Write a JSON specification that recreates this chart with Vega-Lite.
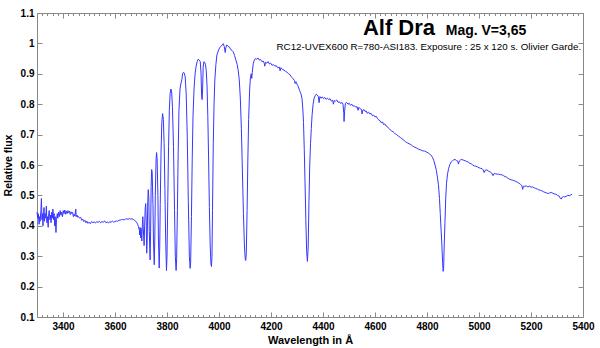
{
  "$schema": "https://vega.github.io/schema/vega-lite/v6.json",
  "width": 546,
  "height": 304,
  "autosize": {"type": "none"},
  "padding": {"left": 37, "top": 13, "right": 17, "bottom": 31},
  "background": "white",
  "config": {
    "view": {"stroke": null},
    "axis": {"labelFont": "Liberation Sans", "titleFont": "Liberation Sans", "labelFontWeight": "bold", "titleFontWeight": "bold", "labelColor": "#000", "titleColor": "#000", "domainColor": "#888", "tickColor": "#888", "grid": false, "labelFontSize": 10, "titleFontSize": 11}
  },
  "datasets": {
    "spec": [
{"w":3300,"f":0.445},{"w":3303,"f":0.425},{"w":3305,"f":0.44},{"w":3308,"f":0.405},{"w":3310,"f":0.43},{"w":3312,"f":0.415},{"w":3315,"f":0.45},{"w":3317,"f":0.49},{"w":3319,"f":0.42},{"w":3321,"f":0.44},{"w":3323,"f":0.40},{"w":3325,"f":0.435},{"w":3327,"f":0.46},{"w":3329,"f":0.415},{"w":3331,"f":0.44},{"w":3334,"f":0.425},{"w":3336,"f":0.465},{"w":3338,"f":0.41},{"w":3340,"f":0.43},{"w":3343,"f":0.395},{"w":3345,"f":0.44},{"w":3347,"f":0.45},{"w":3350,"f":0.42},{"w":3352,"f":0.435},{"w":3354,"f":0.41},{"w":3357,"f":0.445},{"w":3359,"f":0.425},{"w":3361,"f":0.455},{"w":3364,"f":0.42},{"w":3366,"f":0.44},{"w":3368,"f":0.4},{"w":3370,"f":0.43},{"w":3373,"f":0.378},{"w":3375,"f":0.42},{"w":3378,"f":0.44},{"w":3380,"f":0.425},{"w":3383,"f":0.445},{"w":3386,"f":0.43},{"w":3389,"f":0.45},{"w":3392,"f":0.435},{"w":3395,"f":0.445},{"w":3398,"f":0.43},{"w":3401,"f":0.45},{"w":3404,"f":0.44},{"w":3407,"f":0.452},{"w":3410,"f":0.438},{"w":3413,"f":0.448},{"w":3416,"f":0.44},{"w":3419,"f":0.45},{"w":3422,"f":0.443},{"w":3425,"f":0.448},{"w":3428,"f":0.437},{"w":3431,"f":0.446},{"w":3434,"f":0.44},{"w":3437,"f":0.444},{"w":3440,"f":0.43},{"w":3443,"f":0.438},{"w":3446,"f":0.432},{"w":3449,"f":0.455},{"w":3451,"f":0.43},{"w":3454,"f":0.435},{"w":3457,"f":0.428},{"w":3460,"f":0.43},{"w":3464,"f":0.425},{"w":3468,"f":0.428},{"w":3472,"f":0.418},{"w":3476,"f":0.422},{"w":3480,"f":0.414},{"w":3484,"f":0.418},{"w":3488,"f":0.41},{"w":3492,"f":0.415},{"w":3496,"f":0.408},{"w":3500,"f":0.412},{"w":3505,"f":0.407},{"w":3510,"f":0.414},{"w":3515,"f":0.41},{"w":3520,"f":0.413},{"w":3525,"f":0.409},{"w":3530,"f":0.414},{"w":3535,"f":0.411},{"w":3540,"f":0.415},{"w":3545,"f":0.41},{"w":3550,"f":0.414},{"w":3555,"f":0.412},{"w":3560,"f":0.416},{"w":3565,"f":0.41},{"w":3570,"f":0.413},{"w":3575,"f":0.409},{"w":3580,"f":0.414},{"w":3585,"f":0.411},{"w":3590,"f":0.416},{"w":3595,"f":0.412},{"w":3600,"f":0.414},{"w":3605,"f":0.416},{"w":3610,"f":0.415},{"w":3615,"f":0.418},{"w":3620,"f":0.419},{"w":3625,"f":0.42},{"w":3630,"f":0.421},{"w":3635,"f":0.419},{"w":3640,"f":0.422},{"w":3645,"f":0.423},{"w":3650,"f":0.421},{"w":3655,"f":0.424},{"w":3660,"f":0.422},{"w":3665,"f":0.423},{"w":3670,"f":0.421},{"w":3675,"f":0.418},{"w":3680,"f":0.415},{"w":3684,"f":0.41},{"w":3687,"f":0.405},{"w":3690,"f":0.398},{"w":3692,"f":0.39},{"w":3694,"f":0.385},{"w":3695,"f":0.37},{"w":3696,"f":0.395},{"w":3698,"f":0.38},{"w":3699,"f":0.36},{"w":3700,"f":0.392},{"w":3702,"f":0.37},{"w":3703,"f":0.35},{"w":3705,"f":0.40},{"w":3707,"f":0.43},{"w":3709,"f":0.39},{"w":3712,"f":0.335},{"w":3714,"f":0.40},{"w":3716,"f":0.455},{"w":3718,"f":0.473},{"w":3720,"f":0.42},{"w":3722,"f":0.31},{"w":3724,"f":0.36},{"w":3726,"f":0.48},{"w":3728,"f":0.519},{"w":3730,"f":0.49},{"w":3732,"f":0.38},{"w":3735,"f":0.288},{"w":3737,"f":0.38},{"w":3739,"f":0.53},{"w":3741,"f":0.585},{"w":3743,"f":0.575},{"w":3746,"f":0.47},{"w":3748,"f":0.35},{"w":3751,"f":0.272},{"w":3753,"f":0.35},{"w":3755,"f":0.5},{"w":3758,"f":0.62},{"w":3760,"f":0.641},{"w":3762,"f":0.62},{"w":3765,"f":0.5},{"w":3767,"f":0.36},{"w":3770,"f":0.261},{"w":3772,"f":0.33},{"w":3774,"f":0.47},{"w":3777,"f":0.64},{"w":3780,"f":0.74},{"w":3783,"f":0.769},{"w":3786,"f":0.75},{"w":3789,"f":0.67},{"w":3792,"f":0.52},{"w":3795,"f":0.35},{"w":3798,"f":0.253},{"w":3800,"f":0.30},{"w":3803,"f":0.48},{"w":3806,"f":0.66},{"w":3809,"f":0.78},{"w":3812,"f":0.835},{"w":3815,"f":0.85},{"w":3818,"f":0.84},{"w":3821,"f":0.79},{"w":3825,"f":0.66},{"w":3829,"f":0.45},{"w":3832,"f":0.30},{"w":3835,"f":0.253},{"w":3837,"f":0.29},{"w":3840,"f":0.45},{"w":3843,"f":0.64},{"w":3846,"f":0.78},{"w":3850,"f":0.85},{"w":3854,"f":0.87},{"w":3857,"f":0.88},{"w":3860,"f":0.9},{"w":3863,"f":0.905},{"w":3866,"f":0.903},{"w":3870,"f":0.89},{"w":3874,"f":0.83},{"w":3878,"f":0.69},{"w":3882,"f":0.48},{"w":3886,"f":0.30},{"w":3889,"f":0.26},{"w":3891,"f":0.28},{"w":3894,"f":0.43},{"w":3897,"f":0.62},{"w":3900,"f":0.76},{"w":3904,"f":0.85},{"w":3908,"f":0.9},{"w":3912,"f":0.925},{"w":3916,"f":0.94},{"w":3920,"f":0.948},{"w":3924,"f":0.945},{"w":3928,"f":0.94},{"w":3931,"f":0.9},{"w":3933,"f":0.83},{"w":3935,"f":0.815},{"w":3937,"f":0.85},{"w":3939,"f":0.92},{"w":3942,"f":0.94},{"w":3945,"f":0.938},{"w":3948,"f":0.93},{"w":3951,"f":0.91},{"w":3954,"f":0.86},{"w":3957,"f":0.76},{"w":3960,"f":0.62},{"w":3963,"f":0.46},{"w":3966,"f":0.34},{"w":3969,"f":0.275},{"w":3971,"f":0.266},{"w":3973,"f":0.3},{"w":3975,"f":0.45},{"w":3978,"f":0.67},{"w":3981,"f":0.8},{"w":3984,"f":0.88},{"w":3988,"f":0.93},{"w":3992,"f":0.962},{"w":3997,"f":0.975},{"w":4002,"f":0.985},{"w":4007,"f":0.99},{"w":4012,"f":0.995},{"w":4017,"f":0.999},{"w":4020,"f":0.99},{"w":4024,"f":0.97},{"w":4026,"f":0.985},{"w":4030,"f":0.995},{"w":4035,"f":0.99},{"w":4040,"f":0.988},{"w":4045,"f":0.98},{"w":4050,"f":0.977},{"w":4055,"f":0.972},{"w":4060,"f":0.96},{"w":4065,"f":0.945},{"w":4070,"f":0.93},{"w":4074,"f":0.91},{"w":4078,"f":0.88},{"w":4082,"f":0.82},{"w":4086,"f":0.72},{"w":4090,"f":0.58},{"w":4094,"f":0.44},{"w":4098,"f":0.33},{"w":4101,"f":0.29},{"w":4103,"f":0.286},{"w":4105,"f":0.31},{"w":4108,"f":0.45},{"w":4111,"f":0.62},{"w":4114,"f":0.75},{"w":4118,"f":0.85},{"w":4121,"f":0.89},{"w":4124,"f":0.9},{"w":4126,"f":0.885},{"w":4128,"f":0.905},{"w":4132,"f":0.935},{"w":4136,"f":0.945},{"w":4140,"f":0.95},{"w":4145,"f":0.948},{"w":4150,"f":0.952},{"w":4155,"f":0.945},{"w":4160,"f":0.947},{"w":4165,"f":0.94},{"w":4170,"f":0.942},{"w":4174,"f":0.935},{"w":4176,"f":0.925},{"w":4179,"f":0.938},{"w":4184,"f":0.935},{"w":4189,"f":0.94},{"w":4194,"f":0.932},{"w":4199,"f":0.935},{"w":4204,"f":0.928},{"w":4210,"f":0.93},{"w":4215,"f":0.925},{"w":4220,"f":0.927},{"w":4226,"f":0.92},{"w":4232,"f":0.922},{"w":4235,"f":0.91},{"w":4238,"f":0.92},{"w":4244,"f":0.915},{"w":4250,"f":0.912},{"w":4256,"f":0.908},{"w":4262,"f":0.905},{"w":4268,"f":0.9},{"w":4273,"f":0.897},{"w":4278,"f":0.89},{"w":4284,"f":0.885},{"w":4290,"f":0.878},{"w":4293,"f":0.868},{"w":4296,"f":0.874},{"w":4300,"f":0.866},{"w":4305,"f":0.858},{"w":4310,"f":0.845},{"w":4315,"f":0.835},{"w":4319,"f":0.82},{"w":4322,"f":0.79},{"w":4325,"f":0.74},{"w":4328,"f":0.65},{"w":4331,"f":0.54},{"w":4334,"f":0.42},{"w":4337,"f":0.32},{"w":4340,"f":0.283},{"w":4343,"f":0.33},{"w":4346,"f":0.48},{"w":4349,"f":0.6},{"w":4352,"f":0.67},{"w":4355,"f":0.72},{"w":4358,"f":0.765},{"w":4362,"f":0.8},{"w":4366,"f":0.82},{"w":4370,"f":0.828},{"w":4374,"f":0.833},{"w":4378,"f":0.83},{"w":4382,"f":0.825},{"w":4385,"f":0.805},{"w":4388,"f":0.825},{"w":4392,"f":0.82},{"w":4397,"f":0.824},{"w":4402,"f":0.818},{"w":4407,"f":0.822},{"w":4412,"f":0.816},{"w":4417,"f":0.82},{"w":4422,"f":0.815},{"w":4427,"f":0.818},{"w":4432,"f":0.81},{"w":4437,"f":0.813},{"w":4440,"f":0.8},{"w":4443,"f":0.812},{"w":4448,"f":0.81},{"w":4453,"f":0.814},{"w":4458,"f":0.806},{"w":4463,"f":0.808},{"w":4468,"f":0.802},{"w":4473,"f":0.806},{"w":4477,"f":0.8},{"w":4480,"f":0.77},{"w":4481,"f":0.743},{"w":4483,"f":0.775},{"w":4486,"f":0.803},{"w":4491,"f":0.806},{"w":4496,"f":0.8},{"w":4501,"f":0.803},{"w":4506,"f":0.796},{"w":4511,"f":0.8},{"w":4516,"f":0.793},{"w":4521,"f":0.795},{"w":4526,"f":0.79},{"w":4531,"f":0.792},{"w":4535,"f":0.78},{"w":4538,"f":0.79},{"w":4543,"f":0.785},{"w":4548,"f":0.783},{"w":4550,"f":0.768},{"w":4553,"f":0.78},{"w":4558,"f":0.782},{"w":4562,"f":0.776},{"w":4566,"f":0.778},{"w":4570,"f":0.77},{"w":4575,"f":0.774},{"w":4580,"f":0.768},{"w":4585,"f":0.77},{"w":4590,"f":0.762},{"w":4595,"f":0.764},{"w":4600,"f":0.758},{"w":4605,"f":0.76},{"w":4610,"f":0.752},{"w":4615,"f":0.748},{"w":4620,"f":0.745},{"w":4625,"f":0.738},{"w":4629,"f":0.742},{"w":4633,"f":0.733},{"w":4638,"f":0.735},{"w":4643,"f":0.728},{"w":4648,"f":0.726},{"w":4653,"f":0.72},{"w":4658,"f":0.716},{"w":4664,"f":0.712},{"w":4670,"f":0.709},{"w":4676,"f":0.704},{"w":4683,"f":0.7},{"w":4690,"f":0.695},{"w":4697,"f":0.691},{"w":4704,"f":0.686},{"w":4710,"f":0.682},{"w":4717,"f":0.677},{"w":4724,"f":0.673},{"w":4731,"f":0.67},{"w":4738,"f":0.667},{"w":4745,"f":0.662},{"w":4752,"f":0.659},{"w":4760,"f":0.656},{"w":4767,"f":0.652},{"w":4775,"f":0.65},{"w":4782,"f":0.647},{"w":4790,"f":0.646},{"w":4797,"f":0.643},{"w":4804,"f":0.64},{"w":4810,"f":0.636},{"w":4816,"f":0.632},{"w":4821,"f":0.625},{"w":4826,"f":0.615},{"w":4831,"f":0.6},{"w":4836,"f":0.582},{"w":4840,"f":0.56},{"w":4844,"f":0.535},{"w":4848,"f":0.49},{"w":4851,"f":0.44},{"w":4854,"f":0.39},{"w":4857,"f":0.34},{"w":4860,"f":0.28},{"w":4862,"f":0.25},{"w":4864,"f":0.26},{"w":4866,"f":0.33},{"w":4869,"f":0.41},{"w":4872,"f":0.49},{"w":4875,"f":0.54},{"w":4879,"f":0.57},{"w":4883,"f":0.588},{"w":4888,"f":0.602},{"w":4893,"f":0.61},{"w":4898,"f":0.614},{"w":4903,"f":0.617},{"w":4908,"f":0.618},{"w":4913,"f":0.615},{"w":4918,"f":0.613},{"w":4921,"f":0.603},{"w":4924,"f":0.613},{"w":4929,"f":0.617},{"w":4934,"f":0.618},{"w":4940,"f":0.616},{"w":4946,"f":0.614},{"w":4952,"f":0.612},{"w":4958,"f":0.61},{"w":4964,"f":0.606},{"w":4970,"f":0.604},{"w":4976,"f":0.6},{"w":4982,"f":0.597},{"w":4988,"f":0.596},{"w":4994,"f":0.594},{"w":5000,"f":0.591},{"w":5006,"f":0.589},{"w":5012,"f":0.588},{"w":5016,"f":0.584},{"w":5020,"f":0.575},{"w":5024,"f":0.583},{"w":5030,"f":0.584},{"w":5036,"f":0.58},{"w":5042,"f":0.578},{"w":5048,"f":0.574},{"w":5054,"f":0.565},{"w":5058,"f":0.572},{"w":5064,"f":0.571},{"w":5070,"f":0.57},{"w":5076,"f":0.57},{"w":5082,"f":0.568},{"w":5088,"f":0.568},{"w":5094,"f":0.565},{"w":5100,"f":0.562},{"w":5106,"f":0.56},{"w":5112,"f":0.556},{"w":5118,"f":0.553},{"w":5124,"f":0.551},{"w":5130,"f":0.55},{"w":5136,"f":0.548},{"w":5142,"f":0.546},{"w":5148,"f":0.543},{"w":5154,"f":0.54},{"w":5160,"f":0.536},{"w":5165,"f":0.532},{"w":5168,"f":0.52},{"w":5171,"f":0.53},{"w":5176,"f":0.53},{"w":5182,"f":0.531},{"w":5188,"f":0.528},{"w":5194,"f":0.53},{"w":5200,"f":0.527},{"w":5206,"f":0.528},{"w":5212,"f":0.525},{"w":5218,"f":0.523},{"w":5224,"f":0.521},{"w":5230,"f":0.518},{"w":5236,"f":0.517},{"w":5242,"f":0.515},{"w":5248,"f":0.512},{"w":5254,"f":0.51},{"w":5260,"f":0.508},{"w":5266,"f":0.506},{"w":5272,"f":0.508},{"w":5278,"f":0.51},{"w":5284,"f":0.507},{"w":5290,"f":0.505},{"w":5296,"f":0.504},{"w":5302,"f":0.5},{"w":5308,"f":0.498},{"w":5313,"f":0.49},{"w":5316,"f":0.488},{"w":5320,"f":0.494},{"w":5325,"f":0.496},{"w":5330,"f":0.495},{"w":5336,"f":0.497},{"w":5342,"f":0.5},{"w":5348,"f":0.499},{"w":5354,"f":0.502},{"w":5358,"f":0.504}
    ]
  },
  "resolve": {"axis": {"x": "independent", "y": "independent"}},
  "layer": [
    {
      "data": {"name": "spec"},
      "mark": {"type": "line", "color": "#3636ff", "strokeWidth": 1, "interpolate": "linear"},
      "encoding": {
        "x": {"field": "w", "type": "quantitative", "scale": {"domain": [3300, 5400], "nice": false, "zero": false},
          "axis": {"orient": "bottom", "title": "Wavelength in Å", "titlePadding": 1, "values": [3300,3320,3340,3360,3380,3400,3420,3440,3460,3480,3500,3520,3540,3560,3580,3600,3620,3640,3660,3680,3700,3720,3740,3760,3780,3800,3820,3840,3860,3880,3900,3920,3940,3960,3980,4000,4020,4040,4060,4080,4100,4120,4140,4160,4180,4200,4220,4240,4260,4280,4300,4320,4340,4360,4380,4400,4420,4440,4460,4480,4500,4520,4540,4560,4580,4600,4620,4640,4660,4680,4700,4720,4740,4760,4780,4800,4820,4840,4860,4880,4900,4920,4940,4960,4980,5000,5020,5040,5060,5080,5100,5120,5140,5160,5180,5200,5220,5240,5260,5280,5300,5320,5340,5360,5380,5400],
            "format": "d", "labelExpr": "datum.value % 200 === 0 ? datum.label : ''", "labelOverlap": false, "labelFlush": false,
            "tickSize": {"condition": {"test": "datum.value % 200 === 0", "value": -5}, "value": -2.5}, "labelPadding": 9}},
        "y": {"field": "f", "type": "quantitative", "scale": {"domain": [0.1, 1.1], "nice": false, "zero": false},
          "axis": {"orient": "left", "title": "Relative flux", "titleFontSize": 10.5, "values": [0.1,0.2,0.3,0.4,0.5,0.6,0.7,0.8,0.9,1.0,1.1], "format": ".2~f", "tickSize": -5, "labelPadding": 8, "labelOverlap": false, "titlePadding": 7}}
      }
    },
    {
      "data": {"name": "spec"},
      "mark": {"type": "line", "opacity": 0},
      "encoding": {
        "x": {"field": "w", "type": "quantitative",
          "axis": {"orient": "top", "title": null, "labels": false, "values": [3300,3320,3340,3360,3380,3400,3420,3440,3460,3480,3500,3520,3540,3560,3580,3600,3620,3640,3660,3680,3700,3720,3740,3760,3780,3800,3820,3840,3860,3880,3900,3920,3940,3960,3980,4000,4020,4040,4060,4080,4100,4120,4140,4160,4180,4200,4220,4240,4260,4280,4300,4320,4340,4360,4380,4400,4420,4440,4460,4480,4500,4520,4540,4560,4580,4600,4620,4640,4660,4680,4700,4720,4740,4760,4780,4800,4820,4840,4860,4880,4900,4920,4940,4960,4980,5000,5020,5040,5060,5080,5100,5120,5140,5160,5180,5200,5220,5240,5260,5280,5300,5320,5340,5360,5380,5400],
            "tickSize": {"condition": {"test": "datum.value % 200 === 0", "value": -5}, "value": -2.5}}},
        "y": {"field": "f", "type": "quantitative",
          "axis": {"orient": "right", "title": null, "labels": false, "values": [0.1,0.2,0.3,0.4,0.5,0.6,0.7,0.8,0.9,1.0,1.1], "tickSize": -5}}
      }
    },
    {
      "data": {"values": [{"t": "Alf Dra"}]},
      "mark": {"type": "text", "align": "right", "baseline": "alphabetic", "font": "Liberation Sans", "fontWeight": "bold", "fontSize": 22, "color": "#000"},
      "encoding": {"x": {"datum": 4831, "type": "quantitative", "axis": null}, "y": {"datum": 1.0286, "type": "quantitative", "axis": null}, "text": {"field": "t"}}
    },
    {
      "data": {"values": [{"t": "Mag. V=3,65"}]},
      "mark": {"type": "text", "align": "left", "baseline": "alphabetic", "font": "Liberation Sans", "fontWeight": "bold", "fontSize": 14, "color": "#000"},
      "encoding": {"x": {"datum": 4872, "type": "quantitative", "axis": null}, "y": {"datum": 1.0286, "type": "quantitative", "axis": null}, "text": {"field": "t"}}
    },
    {
      "data": {"values": [{"t": "RC12-UVEX600 R=780-ASI183. Exposure : 25 x 120 s. Olivier Garde."}]},
      "mark": {"type": "text", "align": "right", "baseline": "alphabetic", "font": "Liberation Sans", "fontSize": 9.8, "color": "#000"},
      "encoding": {"x": {"datum": 5393, "type": "quantitative", "axis": null}, "y": {"datum": 0.979, "type": "quantitative", "axis": null}, "text": {"field": "t"}}
    }
  ]
}
